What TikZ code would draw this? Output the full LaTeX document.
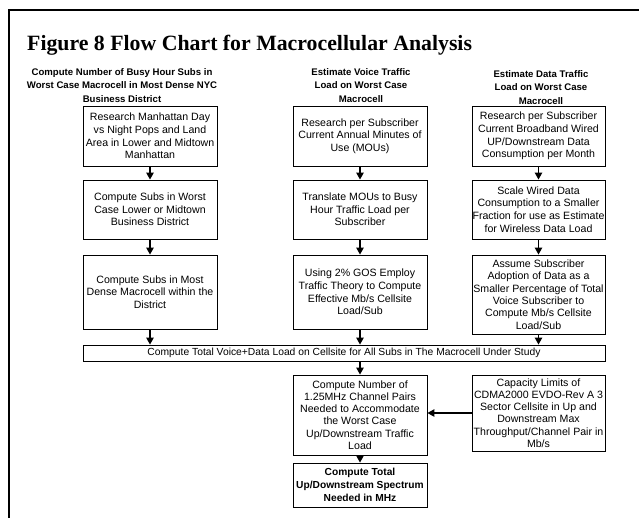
\documentclass[tikz,border=0pt]{standalone}
\usepackage{fontspec}
\setmainfont{Liberation Sans}
\newfontfamily\titleserif{Liberation Serif}
\usetikzlibrary{arrows.meta}

\begin{document}
\begin{tikzpicture}[x=1pt, y=-1pt,
  box/.style={draw, line width=0.9pt, inner sep=0pt, align=center,
    font=\fontsize{10.6}{12.7}\selectfont},
  widebox/.style={box, font=\fontsize{10.3}{12.6}\selectfont},
  tallbox/.style={box, font=\fontsize{10.6}{12.3}\selectfont},
  boldbox/.style={box, font=\bfseries\fontsize{10.2}{13}\selectfont},
  hdr/.style={align=center, inner sep=0pt, anchor=north,
    font=\bfseries\fontsize{9.6}{13.5}\selectfont},
  arr/.style={line width=1.2pt, -{Triangle[length=7pt,width=7.5pt]}},
  frame/.style={line width=2pt}]
\useasboundingbox (0,0) rectangle (639,518);

% page frame: left and top rules
\draw[frame] (9,518) -- (9,10) -- (640,10);

% title
\node[anchor=base west, inner sep=0pt, font=\titleserif\bfseries\fontsize{21.8}{26}\selectfont]
  (title) at (27,51) {Figure 8 Flow Chart for Macrocellular Analysis};

% column headings
\node[hdr] (h1) at (122,68) {Compute Number of Busy Hour Subs in\\Worst Case Macrocell in Most Dense NYC\\Business District};
\node[hdr] (h2) at (361,68) {Estimate Voice Traffic\\Load on Worst Case\\Macrocell};
\node[hdr] (h3) at (541,70) {Estimate Data Traffic\\Load on Worst Case\\Macrocell};

% row 1
\node[box, minimum width=134pt, minimum height=60pt] (a1) at (150,136)
  {Research Manhattan Day\\vs Night Pops and Land\\Area in Lower and Midtown\\Manhattan};
\node[box, minimum width=134pt, minimum height=60pt] (b1) at (360,136)
  {Research per Subscriber\\Current Annual Minutes of\\Use (MOUs)};
\node[box, minimum width=133pt, minimum height=60pt] (c1) at (538.5,136)
  {Research per Subscriber\\Current Broadband Wired\\UP/Downstream Data\\Consumption per Month};

% row 2
\node[box, minimum width=134pt, minimum height=59pt] (a2) at (150,209.5)
  {Compute Subs in Worst\\Case Lower or Midtown\\Business District};
\node[box, minimum width=134pt, minimum height=59pt] (b2) at (360,209.5)
  {Translate MOUs to Busy\\Hour Traffic Load per\\Subscriber};
\node[box, minimum width=133pt, minimum height=59pt] (c2) at (538.5,209.5)
  {Scale Wired Data\\Consumption to a Smaller\\Fraction for use as Estimate\\for Wireless Data Load};

% row 3
\node[box, minimum width=134pt, minimum height=74pt] (a3) at (150,292)
  {Compute Subs in Most\\Dense Macrocell within the\\District};
\node[box, minimum width=134pt, minimum height=74pt] (b3) at (360,292)
  {Using 2\% GOS Employ\\Traffic Theory to Compute\\Effective Mb/s Cellsite\\Load/Sub};
\node[tallbox, minimum width=133pt, minimum height=79pt] (c3) at (538.5,294.5)
  {Assume Subscriber\\Adoption of Data as a\\Smaller Percentage of Total\\Voice Subscriber to\\Compute Mb/s Cellsite\\Load/Sub};

% combined load
\node[widebox, minimum width=522pt, minimum height=16pt] (tot) at (344,353)
  {Compute Total Voice+Data Load on Cellsite for All Subs in The Macrocell Under Study};

% row 4
\node[tallbox, minimum width=134pt, minimum height=80pt] (b4) at (360,415)
  {Compute Number of\\1.25MHz Channel Pairs\\Needed to Accommodate\\the Worst Case\\Up/Downstream Traffic\\Load};
\node[tallbox, minimum width=133pt, minimum height=76pt] (c4) at (538.5,413)
  {Capacity Limits of\\CDMA2000 EVDO-Rev A 3\\Sector Cellsite in Up and\\Downstream Max\\Throughput/Channel Pair in\\Mb/s};

% result
\node[boldbox, minimum width=134pt, minimum height=44pt] (b5) at (360,485)
  {Compute Total\\Up/Downstream Spectrum\\Needed in MHz};

% connectors
\draw[arr] (a1) -- (a2);
\draw[arr] (a2) -- (a3);
\draw[arr] (b1) -- (b2);
\draw[arr] (b2) -- (b3);
\draw[arr] (c1) -- (c2);
\draw[arr] (c2) -- (c3);
\draw[arr] (a3.south) -- (a3.south |- tot.north);
\draw[arr] (b3.south) -- (b3.south |- tot.north);
\draw[arr] (c3.south) -- (c3.south |- tot.north);
\draw[arr] (tot.south -| b4.north) -- (b4.north);
\draw[arr] (c4.west) -- (c4.west -| b4.east);
\draw[arr] (b4) -- (b5);
\end{tikzpicture}
\end{document}
